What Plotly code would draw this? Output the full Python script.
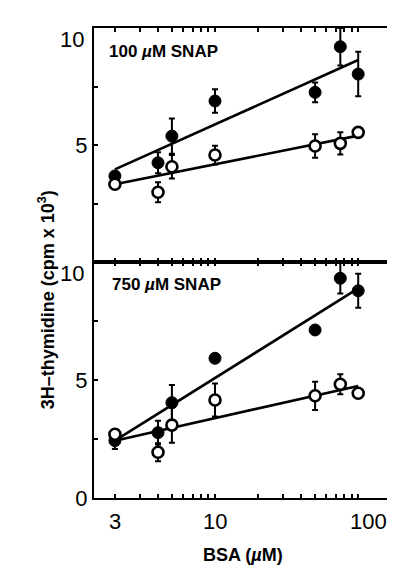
import math
import plotly.graph_objects as go

# ---------------- data ----------------
bsa = [2, 4, 5, 10, 50, 75, 100]          # plotted positions on the log axis

# 100 uM SNAP panel
top_filled = [3.68, 4.24, 5.38, 6.88, 7.25, 9.20, 8.03]
top_filled_err = [0.0, 0.45, 0.75, 0.50, 0.42, 0.80, 0.95]
top_open = [3.32, 2.98, 4.07, 4.57, 4.96, 5.07, 5.54]
top_open_err = [0.0, 0.43, 0.50, 0.40, 0.50, 0.48, 0.0]

# 750 uM SNAP panel
bot_filled = [2.43, 2.77, 4.04, 5.92, 7.12, 9.31, 8.78]
bot_filled_err = [0.35, 0.50, 0.75, 0.0, 0.0, 0.65, 0.72]
bot_open = [2.70, 1.94, 3.09, 4.15, 4.33, 4.82, 4.44]
bot_open_err = [0.10, 0.38, 0.75, 0.70, 0.60, 0.42, 0.0]

# regression lines (end points)
fit_x = [2, 100]
top_filled_fit = [3.96, 8.63]
top_open_fit = [3.32, 5.40]
bot_filled_fit = [2.43, 8.88]
bot_open_fit = [2.43, 4.75]

# ticks
x_tick_vals = [2, 10, 100]
x_tick_text = ["3", "10", "100"]
x_minor_vals = [3, 4, 5, 6, 7, 8, 9, 20, 30, 40, 50, 60, 70, 80, 90]
y_tick_vals = [0, 2.5, 5, 7.5, 10]
y_tick_text_top = ["", "", "5", "", "10"]
y_tick_text_bot = ["0", "", "5", "", "10"]

panel_labels = ["100 <i>µ</i>M SNAP", "750 <i>µ</i>M SNAP"]
x_title = "BSA (<i>µ</i>M)"
y_title = "3H–thymidine (cpm x 10<sup>3</sup>)"

FONT = "Liberation Sans, Arial, Helvetica, sans-serif"

fig = go.Figure()

def add_panel(xa, ya, filled, ferr, opn, oerr, ffit, ofit):
    for fit in (ffit, ofit):
        fig.add_trace(go.Scatter(x=fit_x, y=fit, mode="lines", xaxis=xa, yaxis=ya,
                                 line=dict(color="black", width=2.6),
                                 showlegend=False, hoverinfo="skip"))
    fig.add_trace(go.Scatter(x=bsa, y=filled, mode="markers", xaxis=xa, yaxis=ya,
                             marker=dict(symbol="circle", size=12, color="black",
                                         line=dict(color="black", width=1)),
                             error_y=dict(type="data", array=ferr, color="black",
                                          thickness=2, width=3),
                             showlegend=False))
    fig.add_trace(go.Scatter(x=bsa, y=opn, mode="markers", xaxis=xa, yaxis=ya,
                             marker=dict(symbol="circle", size=11, color="white",
                                         line=dict(color="black", width=2.6)),
                             error_y=dict(type="data", array=oerr, color="black",
                                          thickness=2, width=3),
                             showlegend=False))

add_panel("x", "y", top_filled, top_filled_err, top_open, top_open_err,
          top_filled_fit, top_open_fit)
add_panel("x2", "y2", bot_filled, bot_filled_err, bot_open, bot_open_err,
          bot_filled_fit, bot_open_fit)

# page body has an 8px margin: work in viewport pixels, shift by OFF
OFF = 8
W, H = 395 - OFF, 567 - OFF
PL, PR, PT, PB, PS = 94, 394, 28, 498, 262      # viewport pixel positions
L, R, T, B = PL - OFF, W - (PR - OFF), PT - OFF, H - (PB - OFF)
plot_w = W - L - R
plot_h = H - T - B
split = (PB - PS) / plot_h

def px_x(v):
    return (v - PL) / plot_w

def px_y(v):
    return (PB - v) / plot_h

xrng = [0.155, 2.236]
axis_common = dict(showline=True, linecolor="black", linewidth=2, mirror="ticks",
                   ticks="inside", ticklen=4, tickwidth=2, tickcolor="black",
                   showgrid=False, zeroline=False)

xaxis_common = dict(axis_common, type="log", range=xrng, tickvals=x_tick_vals,
                    ticktext=x_tick_text, showticklabels=False,
                    minor=dict(tickvals=x_minor_vals, ticks="inside", ticklen=4,
                               tickwidth=2, tickcolor="black", showgrid=False))

def yaxis(texts, domain, anchor):
    return dict(axis_common, range=[0, 10], tickvals=y_tick_vals,
                ticktext=[t if t != "10" else " " for t in texts],
                tickfont=dict(family=FONT, size=22, color="black"),
                domain=domain, anchor=anchor)

fig.update_layout(
    width=W, height=H,
    margin=dict(l=L, r=R, t=T, b=B),
    paper_bgcolor="white", plot_bgcolor="white",
    xaxis=dict(xaxis_common, domain=[0, 1], anchor="y"),
    yaxis=yaxis(y_tick_text_top, [split, 1], "x"),
    xaxis2=dict(xaxis_common, domain=[0, 1], anchor="y2"),
    yaxis2=yaxis(y_tick_text_bot, [0, split], "x2"),
)

ann = []
# "10" y labels sit a little below their ticks in the original
for ya, texts in (("y", y_tick_text_top), ("y2", y_tick_text_bot)):
    for v, t in zip(y_tick_vals, texts):
        if t == "10":
            ann.append(dict(x=0, xref="paper", y=v, yref=ya, text=t, showarrow=False,
                            xanchor="right", yanchor="middle", xshift=-8, yshift=-11,
                            font=dict(family=FONT, size=22, color="black")))
# x tick labels
x_label_shift = [0, 0, 10]
for v, t, s in zip(x_tick_vals, x_tick_text, x_label_shift):
    ann.append(dict(x=math.log10(v), xref="x2", y=px_y(521), yref="paper",
                    text=t, showarrow=False, xanchor="center", yanchor="middle",
                    xshift=s, font=dict(family=FONT, size=22, color="black")))
# panel labels
ann.append(dict(x=px_x(107), xref="paper", y=px_y(52), yref="paper",
                text="<b>" + panel_labels[0] + "</b>", showarrow=False,
                xanchor="left", yanchor="middle",
                font=dict(family=FONT, size=17, color="black")))
ann.append(dict(x=px_x(110), xref="paper", y=px_y(284), yref="paper",
                text="<b>" + panel_labels[1] + "</b>", showarrow=False,
                xanchor="left", yanchor="middle",
                font=dict(family=FONT, size=17, color="black")))
# axis titles
ann.append(dict(x=0.5, xref="paper", y=px_y(555), yref="paper",
                text="<b>" + x_title + "</b>", showarrow=False, xanchor="center",
                yanchor="middle", font=dict(family=FONT, size=18, color="black")))
ann.append(dict(x=px_x(46), xref="paper", y=px_y(300), yref="paper",
                text="<b>" + y_title + "</b>", showarrow=False, textangle=-90,
                xanchor="center", yanchor="middle",
                font=dict(family=FONT, size=18, color="black")))
fig.update_layout(annotations=ann)

fig.write_html("out.html")
